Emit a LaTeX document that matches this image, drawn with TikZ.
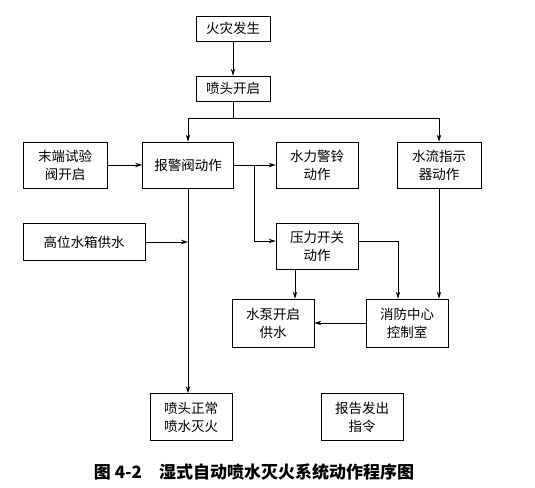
\documentclass[tikz,border=0pt]{standalone}
\usepackage{fontspec}
\setmainfont{Noto Sans CJK SC}
\usetikzlibrary{arrows.meta, positioning, calc}

\begin{document}
\begin{tikzpicture}[
        x=1pt, y=-1pt,
        block/.style={draw, line width=0.8pt, minimum width=82pt, minimum height=46pt, align=center,
            font=\fontsize{13.5}{18}\selectfont, inner sep=2pt},
        arrow/.style={-{Stealth[length=7pt,width=4.5pt]}, line width=0.8pt},
        link/.style={line width=0.8pt}
    ]
        \useasboundingbox (0,0) rectangle (535,487);

        % Top
        \node[block, minimum width=74pt, minimum height=25pt] (fire) at (233, 28.5) {火灾发生};
        \node[block, minimum width=74pt, minimum height=25pt] (open) at (233, 88.5) {喷头开启};
        \coordinate (split) at (233, 118);

        % Middle row
        \node[block, minimum width=84pt] (test) at (65, 165) {末端试验\\阀开启};
        \node[block, minimum width=91pt] (alarm) at (188, 165) {报警阀动作};
        \node[block] (bell) at (317, 165) {水力警铃\\动作};
        \node[block, minimum width=84pt] (flow) at (439, 165) {水流指示\\器动作};
        \coordinate (branch) at (254, 165);

        % Lower part
        \node[block, minimum width=122pt, minimum height=37pt] (tank) at (84, 242) {高位水箱供水};
        \node[block] (psw) at (317, 246) {压力开关\\动作};
        \node[block, minimum height=48pt] (pump) at (273, 323) {水泵开启\\供水};
        \node[block, minimum height=48pt] (ctrl) at (407, 323) {消防中心\\控制室};
        \node[block, minimum height=47pt] (spray) at (191, 417) {喷头正常\\喷水灭火};
        \node[block, minimum height=47pt] (report) at (362, 417) {报告发出\\指令};

        % Caption
        \node[font=\fontsize{17}{20}\selectfont\bfseries] (caption) at (254, 472) {图 4-2\quad 湿式自动喷水灭火系统动作程序图};

        % Arrows
        \draw[arrow] (fire) -- (open);
        \draw[link] (open) -- (split);
        \draw[arrow] (split) -| (alarm);
        \draw[arrow] (split) -| (flow);
        \draw[arrow] (test) -- (alarm);
        \draw[arrow] (alarm) -- (bell);
        \draw[arrow] (branch) |- ([yshift=5pt]psw.west);
        \draw[arrow] (alarm.south) -- (alarm.south |- spray.north);
        \draw[arrow] (tank) -- (tank -| alarm);
        \draw[arrow] ([yshift=5pt]psw.east) -| ([xshift=-9pt]ctrl.north);
        \draw[arrow] (flow.south) -- (flow.south |- ctrl.north);
        \draw[arrow] ([xshift=-22pt]psw.south) -- ([xshift=-22pt]psw.south |- pump.north);
        \draw[arrow] (ctrl) -- (pump);
    \end{tikzpicture}
\end{document}
